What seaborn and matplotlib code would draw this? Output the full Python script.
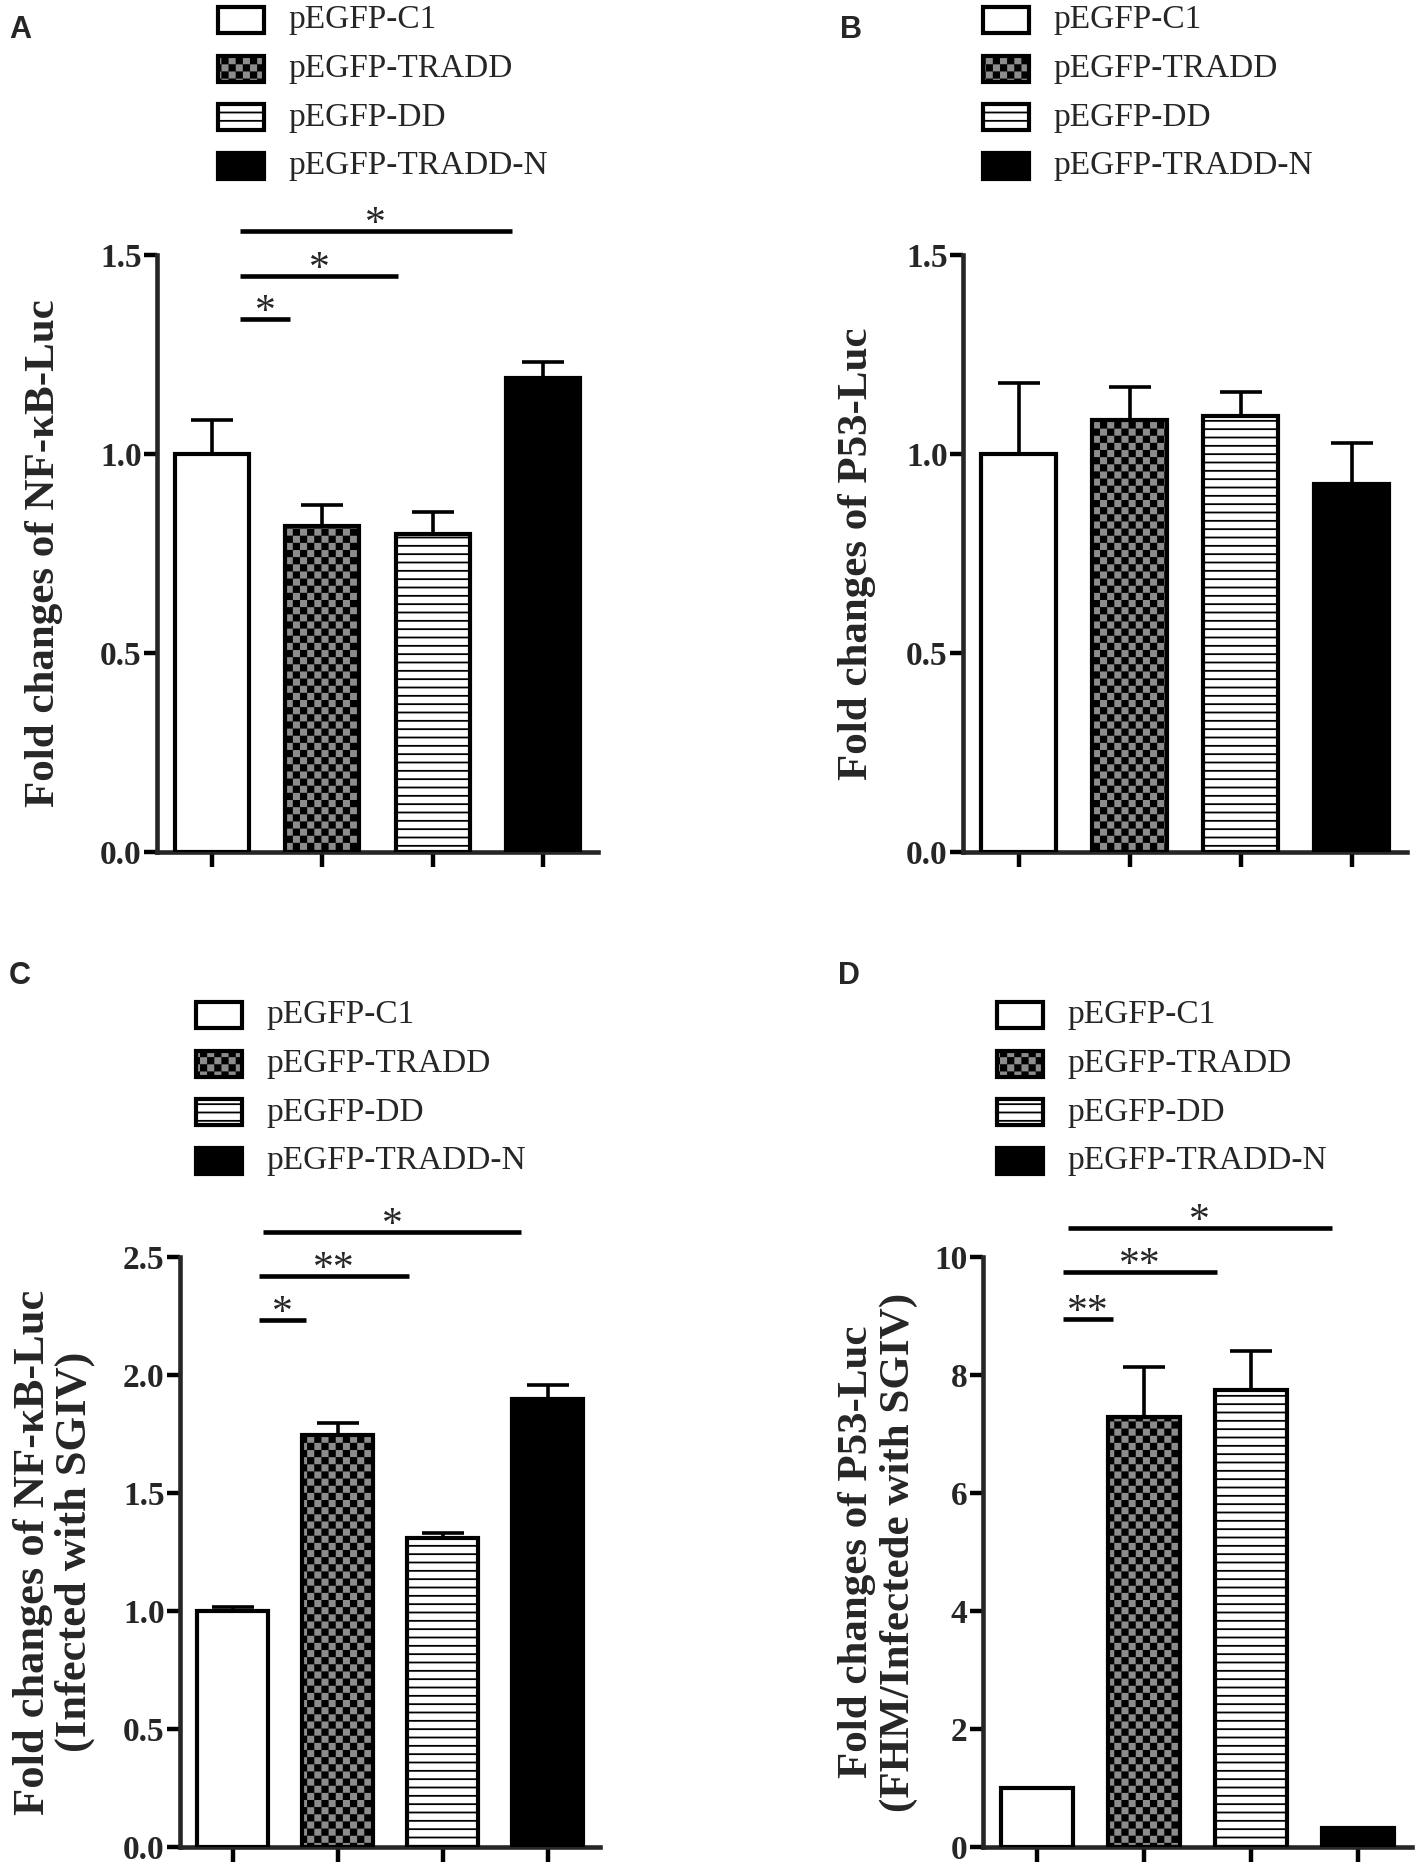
import matplotlib
matplotlib.use('Agg')
import matplotlib.pyplot as plt
import matplotlib.hatch as mhatch
from matplotlib.path import Path
from matplotlib.patches import Rectangle
import numpy as np
import pandas as pd
import seaborn as sns

# ---- values ----
groups = ['pEGFP-C1', 'pEGFP-TRADD', 'pEGFP-DD', 'pEGFP-TRADD-N']

nfkb_mean = [1.00, 0.82, 0.80, 1.19]
nfkb_sem = [0.085, 0.053, 0.055, 0.042]

p53_mean = [1.00, 1.085, 1.095, 0.925]
p53_sem = [0.178, 0.083, 0.062, 0.102]

nfkb_sgiv_mean = [1.00, 1.745, 1.31, 1.90]
nfkb_sgiv_sem = [0.015, 0.053, 0.02, 0.057]

p53_sgiv_mean = [1.00, 7.28, 7.75, 0.33]
p53_sgiv_sem = [0.0, 0.86, 0.65, 0.0]

ticks_ab = [0.0, 0.5, 1.0, 1.5]
ticks_c = [0.0, 0.5, 1.0, 1.5, 2.0, 2.5]
ticks_d = [0, 2, 4, 6, 8, 10]

# significance lines: (from, to, height, stars)
sig_a = [(0.25, 0.71, 1.339, '*'), (0.25, 1.69, 1.447, '*'), (0.25, 2.72, 1.560, '*')]
sig_c = [(0.25, 0.70, 2.233, '*'), (0.25, 1.68, 2.419, '**'), (0.29, 2.75, 2.607, '*')]
sig_d = [(0.25, 0.71, 8.95, '**'), (0.25, 1.68, 9.75, '**'), (0.29, 2.75, 10.5, '*')]

# ---- styles ----
bar_faces = ['white', '#8c8c8c', 'white', 'black']
bar_hatches = ['', '*', '--', '']


# checkerboard hatch for pEGFP-TRADD (takes over the '*' hatch)
class CheckerHatch(mhatch.HatchPatternBase):
    def __init__(self, hatch, density):
        self.n = hatch.count('*') * 14
        self.num_vertices = 5 * (self.n * self.n // 2)

    def set_vertices_and_codes(self, vertices, codes):
        n = self.n
        s = 1.0 / n
        pad = s * 0.12
        k = 0
        for i in range(n):
            for j in range(n):
                if (i + j) % 2:
                    continue
                x0, y0 = i * s + pad, j * s + pad
                x1, y1 = (i + 1) * s - pad, (j + 1) * s - pad
                vertices[k:k + 5] = [[x0, y0], [x1, y0], [x1, y1], [x0, y1], [x0, y0]]
                codes[k:k + 5] = [Path.MOVETO, Path.LINETO, Path.LINETO,
                                  Path.LINETO, Path.CLOSEPOLY]
                k += 5


mhatch._hatch_types = [t for t in mhatch._hatch_types if t is not mhatch.Stars] + [CheckerHatch]

sns.set_theme(style='ticks')
plt.rcParams['font.family'] = ['Liberation Serif', 'DejaVu Serif']
plt.rcParams['hatch.linewidth'] = 1.3

W, H = 1417, 1870
fig = plt.figure(figsize=(W / 100, H / 100), dpi=100)


def px_axes(left, top, right, bottom):
    return fig.add_axes([left / W, 1 - bottom / H, (right - left) / W, (bottom - top) / H])


def panel(ax, means, sems, ymax, ticks, tick_fmt, ylabel, label_x, sig,
          label_size=31, linespacing=1.0):
    df = pd.DataFrame({'group': groups, 'value': means})
    sns.barplot(data=df, x='group', y='value', hue='group',
                palette=dict(zip(groups, bar_faces)), saturation=1,
                width=0.67, edgecolor='black', linewidth=3, errorbar=None,
                legend=False, ax=ax)
    for p, h in zip(ax.patches, bar_hatches):
        p.set_hatch(h)
        p.set_zorder(3)
    xs = [p.get_x() + p.get_width() / 2 for p in ax.patches]
    ax.errorbar(xs, means, yerr=[np.zeros(len(sems)), sems], fmt='none',
                ecolor='black', elinewidth=2.6, capsize=15, capthick=2.6,
                zorder=2, clip_on=False)

    sns.despine(ax=ax)
    for side in ['left', 'bottom']:
        ax.spines[side].set_linewidth(3.3)
    ax.set_xlim(-0.5, 3.5)
    ax.set_ylim(0, ymax)
    ax.set_xticks(range(len(groups)))
    ax.set_xticklabels([''] * len(groups))
    ax.set_xlabel('')
    ax.set_yticks(ticks, labels=[tick_fmt.format(t) for t in ticks],
                  fontweight='bold', fontsize=24)
    ax.tick_params(axis='y', length=9.5, width=3.2, pad=1.5, color='black')
    ax.tick_params(axis='x', length=11, width=3.2, color='black')
    ax.set_ylabel(ylabel, fontsize=label_size, fontweight='bold', va='center',
                  linespacing=linespacing)
    ax.yaxis.set_label_coords(label_x, 0.5)

    for x0, x1, y, stars in sig:
        ax.plot([x0, x1], [y, y], color='black', lw=3.3,
                solid_capstyle='butt', clip_on=False)
        ax.annotate(stars, xy=((x0 + x1) / 2, y), xytext=(0, -3),
                    textcoords='offset points', ha='center', va='baseline',
                    fontsize=30, annotation_clip=False)


def legend(x, y):
    pitch = 48.7
    for i, (lab, fc, h) in enumerate(zip(groups, bar_faces, bar_hatches)):
        cy = y + i * pitch
        fig.add_artist(Rectangle((x / W, 1 - (cy + 13) / H), 46 / W, 26 / H,
                                 transform=fig.transFigure, facecolor=fc,
                                 edgecolor='black', lw=3, hatch=h))
        fig.text((x + 70) / W, 1 - cy / H, lab, fontsize=24, va='center', ha='left')


def letter(x, y, s):
    fig.text(x / W, 1 - y / H, s, fontsize=22, fontweight='bold',
             family=['Liberation Sans', 'DejaVu Sans'], va='top', ha='left')


ax_a = px_axes(157, 255, 598, 852)
panel(ax_a, nfkb_mean, nfkb_sem, 1.5, ticks_ab, '{:.1f}',
      'Fold changes of NF-κB-Luc', -0.256, sig_a)

ax_b = px_axes(963, 255, 1407, 852)
panel(ax_b, p53_mean, p53_sem, 1.5, ticks_ab, '{:.1f}',
      'Fold changes of P53-Luc', -0.239, [])

ax_c = px_axes(180, 1257, 600, 1847)
panel(ax_c, nfkb_sgiv_mean, nfkb_sgiv_sem, 2.5, ticks_c, '{:.1f}',
      'Fold changes of NF-κB-Luc\n(Infected with SGIV)', -0.30, sig_c,
      label_size=32, linespacing=1.05)

ax_d = px_axes(983, 1257, 1412, 1847)
panel(ax_d, p53_sgiv_mean, p53_sgiv_sem, 10, ticks_d, '{:.0f}',
      'Fold changes of P53-Luc\n(FHM/Infectede with SGIV)', -0.245, sig_d,
      label_size=31, linespacing=1.12)

legend(218, 20)
legend(983, 20)
legend(196, 1015)
legend(997, 1015)

letter(9, 15, 'A')
letter(840, 15, 'B')
letter(9, 961, 'C')
letter(838, 961, 'D')

fig.savefig('out.png', dpi=100)
